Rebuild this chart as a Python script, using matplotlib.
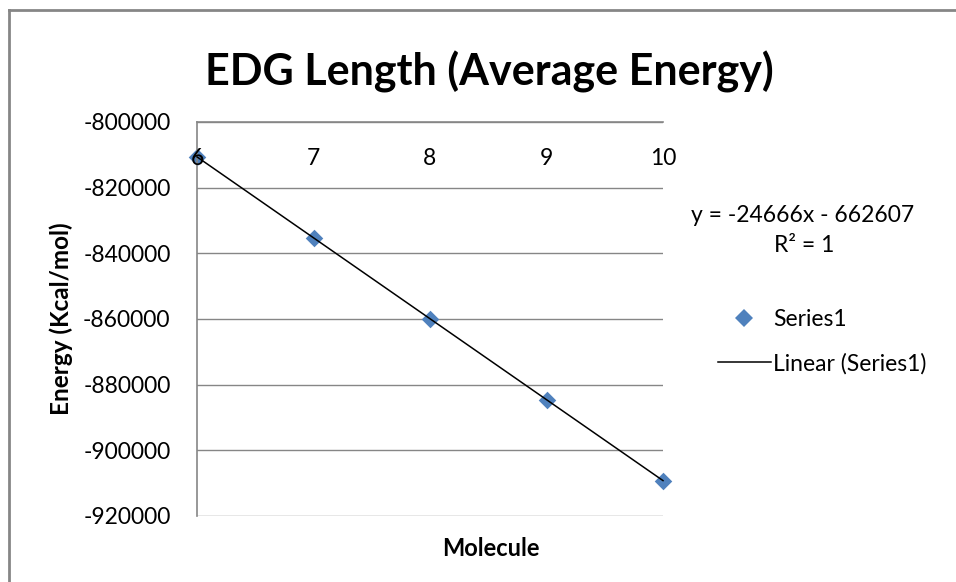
import numpy as np
import matplotlib
matplotlib.use("Agg")
from matplotlib import pyplot as plt
from matplotlib.lines import Line2D

plt.rcParams['font.family'] = ['Lato', 'DejaVu Sans']

molecule = [6, 7, 8, 9, 10]
energy = [-810600, -835300, -859900, -884600, -909200]
y_ticks = [-800000, -820000, -840000, -860000, -880000, -900000, -920000]

grey = '#868686'
blue = '#4F81BD'

fig = plt.figure(figsize=(9.56, 5.82), dpi=100)
ax = fig.add_axes([197 / 956, 1 - 516 / 582, (663 - 197) / 956, (516 - 122) / 582])

# linear trend line
slope, intercept = np.polyfit(molecule, energy, 1)
xs = np.array([molecule[0], molecule[-1]])
ax.plot(xs, slope * xs + intercept, color='black', lw=1.1, zorder=3, clip_on=False)
ax.scatter(molecule, energy, marker='D', s=80, color=blue, zorder=2, clip_on=False,
           linewidths=0)

ax.set_xlim(6, 10)
ax.set_ylim(-920000, -800000)
ax.set_yticks(y_ticks)
ax.set_yticklabels([str(v) for v in y_ticks], fontsize=16.5)
ax.set_xticks(molecule)
ax.set_xticklabels([str(v) for v in molecule], fontsize=16.5)

ax.xaxis.set_ticks_position('top')
ax.tick_params(axis='x', length=0, pad=-34, labelsize=16.5)
ax.tick_params(axis='y', length=0, pad=19)

ax.grid(axis='y', color=grey, lw=1)
ax.set_axisbelow(True)
ax.xaxis.set_zorder(5)
for side in ['right', 'bottom']:
    ax.spines[side].set_visible(False)
ax.spines['left'].set_color(grey)
ax.spines['top'].set_color(grey)
ax.spines['left'].set_linewidth(1.2)
ax.spines['top'].set_linewidth(1.2)

ax.set_xlabel('Molecule', fontsize=17, fontweight='bold')
ax.xaxis.set_label_coords((491 - 197) / (663 - 197), -(548 - 516) / (516 - 122))
ax.xaxis.label.set_va('center')
ax.set_ylabel('Energy (Kcal/mol)', fontsize=17.5, fontweight='bold', labelpad=7)

fig.text(489 / 956, 1 - 72 / 582, 'EDG Length (Average Energy)', fontsize=31,
         fontweight='bold', ha='center', va='center')

fig.text(803 / 956, 1 - 215 / 582, 'y = -24666x - 662607', fontsize=16.5,
         ha='center', va='center')
fig.text(804 / 956, 1 - 245 / 582, 'R² = 1', fontsize=16.5, ha='center', va='center')

handles = [Line2D([], [], marker='D', ls='none', color=blue, markersize=9, markeredgewidth=0),
           Line2D([], [], color='black', lw=1.1)]
fig.legend(handles, ['Series1', 'Linear (Series1)'], loc='upper left',
           bbox_to_anchor=(718 / 956, 1 - 309 / 582), frameon=False, fontsize=16.5,
           handlelength=2.3, handletextpad=0.12, labelspacing=1.0, borderpad=0,
           borderaxespad=0)

# chart area border (only left and top edges visible)
fig.add_artist(Line2D([8.5 / 956, 8.5 / 956], [0, 1 - 10 / 582], color=grey, lw=2))
fig.add_artist(Line2D([8.5 / 956, 1], [1 - 10 / 582, 1 - 10 / 582], color=grey, lw=2))

fig.savefig('out.png', dpi=100)
